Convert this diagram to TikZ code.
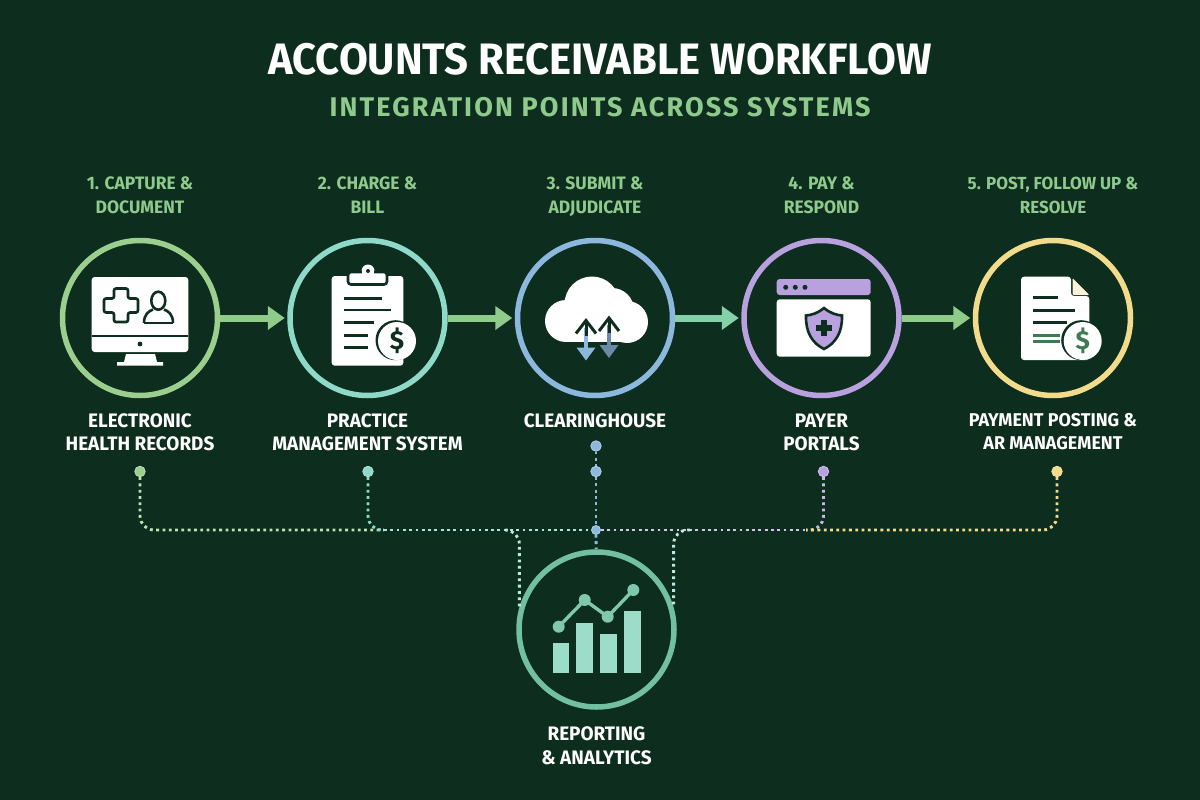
\documentclass[tikz,border=0pt]{standalone}
\usepackage{fontspec}
\setmainfont{Fira Sans}
\usetikzlibrary{arrows.meta, positioning}
\newfontfamily\headfont[FakeStretch=0.95]{Fira Sans}
\newfontfamily\labelfont[FakeStretch=0.97]{Fira Sans}
\newfontfamily\subfont[LetterSpace=8]{Fira Sans}
\definecolor{bgdark}{HTML}{0D2D1E}
\definecolor{iconink}{HTML}{0E2F20}
\definecolor{stepgreen}{HTML}{8FC98C}
\definecolor{colehr}{HTML}{9CCF8E}
\definecolor{colpms}{HTML}{8FD9C8}
\definecolor{colch}{HTML}{8DB8DE}
\definecolor{colpay}{HTML}{B9A0DE}
\definecolor{colar}{HTML}{F2DC8C}
\definecolor{colrep}{HTML}{72BFA2}
\definecolor{colbar}{HTML}{9DDCC8}
\definecolor{flowa}{HTML}{8FCB8B}
\definecolor{flowb}{HTML}{84D0A8}
\definecolor{docgreen}{HTML}{3E7A52}
\tikzset{%
	sys/.style={draw, circle, minimum size=155pt, inner sep=0pt, line width=5.5pt},
	steplabel/.style={text=stepgreen, align=center, inner sep=0pt, text depth=0pt,%
		font=\labelfont\bfseries\fontsize{18}{24}\selectfont},
	namelabel/.style={text=white, align=center, inner sep=0pt,%
		font=\labelfont\bfseries\fontsize{19.5}{23}\selectfont},
	flow/.style={line width=7pt, shorten >=2.5pt, -{Triangle[width=23pt, length=17pt]}},
	dot/.style={draw=white!35!#1, fill=#1, circle, minimum size=10.5pt, inner sep=0pt, line width=.8pt},
	link/.style={line width=2.9pt, dash pattern=on 2.8pt off 3.5pt, rounded corners=14pt},
	ink/.style={draw=iconink, line width=2.6pt},
	coinmark/.style={font=\bfseries\fontsize{26}{26}\selectfont, inner sep=0pt}
}
\newcommand{\coin}[4]{%
	\fill[iconink] (#2-1.5,#3-.8) circle (20pt);
	\fill[white] (#2,#3) circle (19pt);
	\node[coinmark, text=#4] (#1) at (#2,#3) {\$};
}
\begin{document}
\begin{tikzpicture}[x=1pt, y=-1pt]
	\fill[bgdark] (0,0) rectangle (1200,800);

	\node[text=white, inner sep=0pt, font=\headfont\bfseries\fontsize{44}{44}\selectfont] (title) at (600,59) {ACCOUNTS RECEIVABLE WORKFLOW};
	\node[text=stepgreen, inner sep=0pt, font=\subfont\bfseries\fontsize{27}{27}\selectfont] (subtitle) at (600,107) {INTEGRATION POINTS ACROSS SYSTEMS};

	\node[sys, draw=colehr] (ehr) at (140,318) {};
	\node[sys, draw=colpms, right=67pt of ehr] (pms) {};
	\node[sys, draw=colch, right=67pt of pms] (ch) {};
	\node[sys, draw=colpay, right=66pt of ch] (pay) {};
	\node[sys, draw=colar, right=71pt of pay] (ar) {};
	\node[sys, draw=colrep] (rep) at (596.5,629.5) {};

	\node[steplabel, above=24pt of ehr] (s1) {1. CAPTURE \&\\DOCUMENT};
	\node[steplabel, above=24pt of pms] (s2) {2. CHARGE \&\\BILL};
	\node[steplabel, above=24pt of ch] (s3) {3. SUBMIT \&\\ADJUDICATE};
	\node[steplabel, above=24pt of pay] (s4) {4. PAY \&\\RESPOND};
	\node[steplabel, above=24pt of ar, font=\labelfont\bfseries\fontsize{17.5}{24}\selectfont] (s5) {5. POST, FOLLOW UP \&\\RESOLVE};

	\node[namelabel, below=15pt of ehr] (n1) {ELECTRONIC\\HEALTH RECORDS};
	\node[namelabel, below=15pt of pms] (n2) {PRACTICE\\MANAGEMENT SYSTEM};
	\node[namelabel, below=15pt of ch] (n3) {CLEARINGHOUSE};
	\node[namelabel, below=16pt of pay] (n4) {PAYER\\PORTALS};
	\node[namelabel, below=15pt of ar, font=\labelfont\bfseries\fontsize{18.5}{23}\selectfont] (n5) {PAYMENT POSTING \&\\AR MANAGEMENT};
	\node[namelabel, below=17pt of rep] (n6) {REPORTING\\[1pt]\& ANALYTICS};

	\draw[flow, draw=flowa, fill=flowa] (ehr) -- (pms);
	\draw[flow, draw=flowa, fill=flowa] (pms) -- (ch);
	\draw[flow, draw=flowb, fill=flowb] (ch) -- (pay);
	\draw[flow, draw=flowa, fill=flowa] (pay) -- (ar);

	\node[dot=colehr] (d1) at (140,471.5) {};
	\node[dot=colpms] (d2) at (368,471.5) {};
	\node[dot=colch] (d3a) at (596,446) {};
	\node[dot=colch] (d3) at (596,471.5) {};
	\node[dot=colpay] (d4) at (823.5,471.5) {};
	\node[dot=colar] (d5) at (1057,471.5) {};
	\node[dot=colch, minimum size=9pt] (hub) at (596,530) {};
	\coordinate (j2) at (384,530);
	\coordinate (j3) at (505,530);
	\coordinate (j4) at (690,530);
	\coordinate (j5) at (806,530);

	\draw[link, draw=colehr!65!white] (d1) |- (j2);
	\draw[link, draw=colpms] (d2) |- (j2);
	\draw[link, draw=colpms!70!white] (j2) -- (hub);
	\draw[link, draw=colch] (d3a) -- (d3);
	\draw[link, draw=colch] (d3) -- (hub);
	\draw[link, draw=colch] (hub) -- (rep);
	\draw[link, draw=colpay!60!white] (hub) -- (j5);
	\draw[link, draw=colpay!75!white] (d4) |- (j5);
	\draw[link, draw=colar] (d5) |- (j5);
	\draw[link, draw=colpms!60!white] (j3) -| (rep.164);
	\draw[link, draw=colpms!60!white] (j4) -| (rep.16);

	\fill[white, rounded corners=3pt] (91.7,277) rectangle (188.3,352);
	\draw[ink] (91.7,336) -- (188.3,336);
	\fill[iconink] (140,344) circle (2.4pt);
	\fill[white] (126,354) -- (155,354) -- (157,362) -- (163,362) -- (163,365.5) -- (117,365.5) -- (117,362) -- (124,362) -- cycle;
	\draw[ink, rounded corners=2pt] (114,288.5) -- (128,288.5) -- (128,298.5) -- (138,298.5) -- (138,312.5) -- (128,312.5) -- (128,322) -- (114,322) -- (114,312.5) -- (104,312.5) -- (104,298.5) -- (114,298.5) -- cycle;
	\draw[ink] (158.3,300.7) ellipse (7pt and 9pt);
	\draw[ink] (144,323) .. controls (144,314) and (149,311) .. (153,309.5);
	\draw[ink] (173,323) .. controls (173,314) and (168,311) .. (164,309.5);
	\draw[ink] (144,323) -- (173,323);

	\fill[white, rounded corners=3pt] (331.7,276) rectangle (403.3,365.7);
	\fill[white] (368,271) circle (6.5pt);
	\draw[ink, fill=white, rounded corners=3pt] (348,272) rectangle (387,284.5);
	\fill[white] (362,268) rectangle (374,276);
	\fill[iconink] (368,271) circle (2pt);
	\draw[ink] (344,298.3) -- (381.7,298.3);
	\draw[ink] (344,310) -- (391,310);
	\draw[ink] (344,322.7) -- (374,322.7);
	\draw[ink] (344,335.3) -- (368.3,335.3);
	\draw[ink] (344,347.7) -- (368.3,347.7);
	\coin{mark2}{397}{341}{iconink}

	\fill[white] (566,321) circle (21pt);
	\fill[white] (592,304) circle (27.5pt);
	\fill[white] (612,310) circle (22pt);
	\fill[white] (627,322) circle (21pt);
	\fill[white] (566,312) rectangle (627,342.3);
	\foreach \ax/\ay/\acol in {586/319.5/colch, 609/317/colch!75!black} {
		\draw[line width=3.4pt, draw=\acol] (\ax,\ay+8) -- (\ax,\ay+30);
		\fill[\acol] (\ax-9.5,\ay+28) -- (\ax+9.5,\ay+28) -- (\ax,\ay+41) -- cycle;
		\draw[ink, line width=3pt] (\ax,\ay+1) -- (\ax,\ay+16);
		\draw[ink, line width=3pt] (\ax-10,\ay+14) -- (\ax,\ay+1) -- (\ax+10,\ay+14);
	}

	\fill[colpay, rounded corners=3pt] (776.7,279) rectangle (870.7,295);
	\fill[white, rounded corners=3pt] (776.7,299.3) rectangle (870.7,356.7);
	\foreach \bx in {785.7,795.3,805} {
		\fill[iconink] (\bx,287.3) circle (2.5pt);
	}
	\draw[ink, fill=colpay] (824,308) .. controls (830,313) and (836,315) .. (842,315.5) .. controls (842.5,332) and (836,343) .. (824,349) .. controls (812,343) and (805.5,332) .. (806,315.5) .. controls (812,315) and (818,313) .. (824,308) -- cycle;
	\fill[iconink] (821,320) rectangle (827,336);
	\fill[iconink] (816,325) rectangle (832,331);

	\fill[white, rounded corners=3pt] (1021,276.7) -- (1071,276.7) -- (1071,296) -- (1089.3,296) -- (1089.3,360) -- (1021,360) -- cycle;
	\fill[colar!35!white, rounded corners=1pt] (1072.5,278) -- (1089.3,295) -- (1072.5,295) -- cycle;
	\draw[ink] (1033.3,297.7) -- (1058.3,297.7);
	\draw[ink] (1033.3,310.7) -- (1075,310.7);
	\draw[ink] (1033.3,322.7) -- (1066.7,322.7);
	\draw[ink, draw=docgreen] (1033.3,335.3) -- (1060,335.3);
	\draw[ink, draw=docgreen] (1033.3,341.7) -- (1060,341.7);
	\coin{mark5}{1082.7}{341}{docgreen}

	\fill[colbar] (552.7,643.3) rectangle (569.3,672.7);
	\fill[colbar] (576.3,622.7) rectangle (592.7,672.7);
	\fill[colbar] (600,634.3) rectangle (616.7,672.7);
	\fill[colbar] (624.3,611) rectangle (640.7,672.7);
	\draw[line width=3.4pt, draw=colrep!70!colbar] (558.7,626.7) -- (584.7,600) -- (607.7,616.7) -- (633.3,590);
	\foreach \px/\py in {558.7/626.7, 584.7/600, 607.7/616.7, 633.3/590} {
		\fill[colrep!70!colbar] (\px,\py) circle (6pt);
	}
\end{tikzpicture}
\end{document}
